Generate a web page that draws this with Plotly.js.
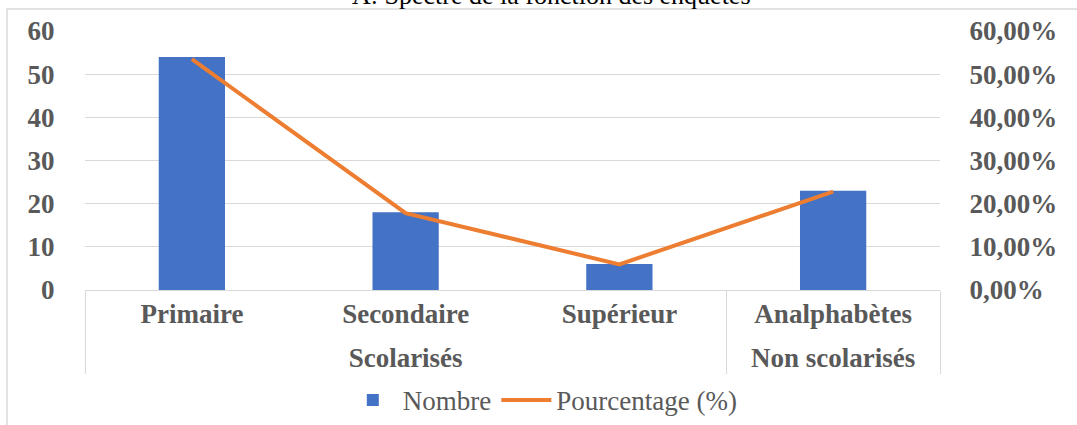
<!DOCTYPE html>
<html>
<head>
<meta charset="utf-8">
<script src="https://cdn.plot.ly/plotly-3.0.1.min.js"></script>
<style>
  html, body { margin: 0; padding: 0; background: #fff; }
  #chart { width: 1077px; height: 425px; }
</style>
</head>
<body>
<div id="chart"></div>
<script>
const titleText = "A: Spectre de la fonction des enquêtes";
const groups = ["Scolarisés", "Scolarisés", "Scolarisés", "Non scolarisés"];
const categories = ["Primaire", "Secondaire", "Supérieur", "Analphabètes"];
const counts = [54, 18, 6, 23];
const percents = [0.5347, 0.1782, 0.0594, 0.2277];

const serif = "Liberation Serif, Times New Roman, serif";
const grey = "#595959";
const lineGrey = "#d9d9d9";

// symmetric non-breaking spaces in a big font enlarge the first label row so the group row sits lower
const pad = "<span style='font-size:38px'>\u00A0</span>";
const innerLabels = categories.map(c => pad + c + pad);

const traces = [
  {
    type: "bar",
    name: "Nombre",
    x: [groups, innerLabels],
    y: counts,
    marker: { color: "#4472C4" },
    yaxis: "y"
  },
  {
    type: "scatter",
    mode: "lines",
    name: "Pourcentage (%)",
    x: [groups, innerLabels],
    y: percents,
    line: { color: "#ED7D31", width: 4 },
    yaxis: "y2"
  }
];

const layout = {
  width: 1077,
  height: 425,
  margin: { l: 85, r: 137, t: 31, b: 135 },
  paper_bgcolor: "#ffffff",
  plot_bgcolor: "#ffffff",
  separators: ",.",
  bargap: 0.69,
  showlegend: true,
  legend: {
    orientation: "h",
    xref: "container",
    x: 0.504,
    xanchor: "center",
    yref: "container",
    y: 0.058,
    yanchor: "middle",
    font: { family: serif, size: 27, color: grey },
    itemwidth: 50,
    tracegroupgap: 0
  },
  xaxis: {
    type: "multicategory",
    showgrid: false,
    showline: true,
    linecolor: lineGrey,
    linewidth: 1,
    ticks: "",
    showdividers: true,
    dividercolor: lineGrey,
    dividerwidth: 1,
    tickfont: { family: serif, size: 27, color: grey, weight: "bold" }
  },
  yaxis: {
    range: [0, 60],
    dtick: 10,
    showgrid: true,
    gridcolor: lineGrey,
    gridwidth: 1,
    zeroline: false,
    showline: false,
    ticks: "outside",
    ticklen: 24,
    tickcolor: "rgba(0,0,0,0)",
    tickfont: { family: serif, size: 27, color: grey, weight: "bold" }
  },
  yaxis2: {
    overlaying: "y",
    side: "right",
    range: [0, 0.6],
    dtick: 0.1,
    tickformat: ".2%",
    showgrid: false,
    zeroline: false,
    showline: false,
    ticks: "outside",
    ticklen: 23,
    tickcolor: "rgba(0,0,0,0)",
    tickfont: { family: serif, size: 27, color: grey, weight: "bold" }
  },
  annotations: [
    {
      text: titleText,
      xref: "paper",
      x: 0.546,
      xanchor: "center",
      yref: "paper",
      y: 1,
      yanchor: "bottom",
      yshift: 19,
      showarrow: false,
      font: { family: serif, size: 26, color: "#000000" }
    }
  ],
  shapes: [
    {
      type: "path",
      xref: "paper",
      yref: "paper",
      path: "M -0.0912 -0.53 L -0.0912 1.085 L 1.17 1.085",
      line: { color: lineGrey, width: 1.5 },
      layer: "below"
    }
  ]
};

Plotly.newPlot("chart", traces, layout, { displayModeBar: false, staticPlot: true });
</script>
</body>
</html>
